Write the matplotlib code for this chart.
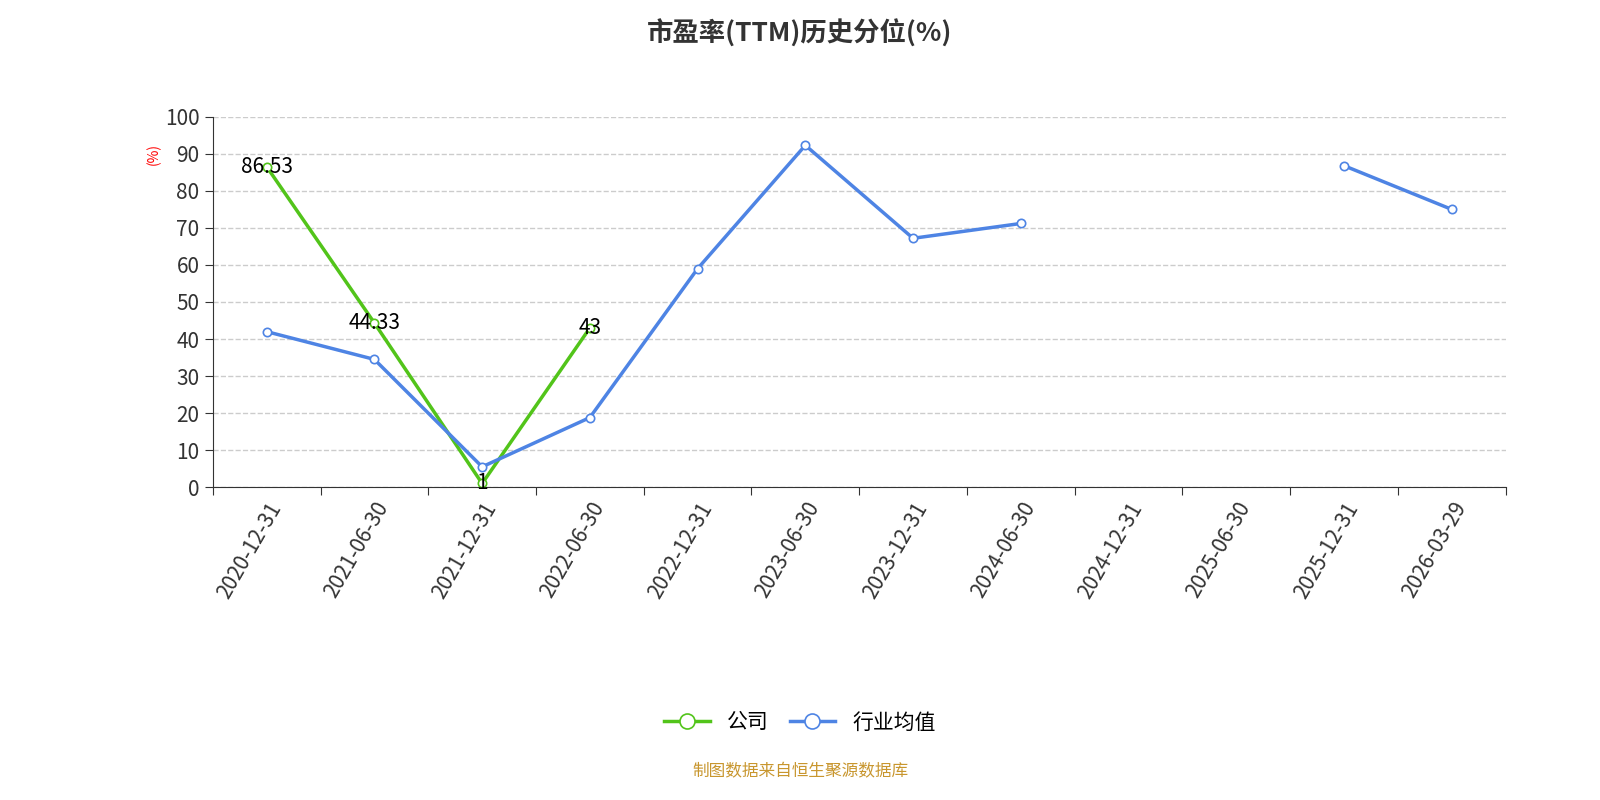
import matplotlib.pyplot as plt
import numpy as np

plt.rcParams['font.family'] = ['Noto Sans CJK SC', 'DejaVu Sans']

dates = ["2020-12-31", "2021-06-30", "2021-12-31", "2022-06-30", "2022-12-31",
         "2023-06-30", "2023-12-31", "2024-06-30", "2024-12-31", "2025-06-30",
         "2025-12-31", "2026-03-29"]
company = [86.53, 44.33, 1, 43] + [np.nan] * 8
company_labels = ["86.53", "44.33", "1", "43"]
industry = [42.0, 34.5, 5.5, 18.8, 59.0, 92.3, 67.2, 71.2, np.nan, np.nan, 86.8, 75.0]

green = "#52c41a"
blue = "#4e84e4"

fig = plt.figure(figsize=(16, 8), dpi=100)
ax = fig.add_axes([0.133, 0.391, 0.808, 0.463])
x = np.arange(len(dates))

ax.plot(x, company, color=green, lw=2.5, marker="o", ms=6,
        mfc="white", mec=green, mew=1.2, label="公司", zorder=3)
ax.plot(x, industry, color=blue, lw=2.5, marker="o", ms=6,
        mfc="white", mec=blue, mew=1.2, label="行业均值", zorder=4)
for xi, v, t in zip(x, company, company_labels):
    ax.text(xi, v, t, ha="center", va="center", fontsize=15, color="black", zorder=5)

ax.set_xlim(-0.5, len(dates) - 0.5)
ax.set_ylim(0, 100)
ax.set_yticks(range(0, 101, 10))
ax.yaxis.grid(True, ls="--", color="#cccccc", lw=1)
ax.set_axisbelow(True)
ax.set_xticks(np.arange(-0.5, len(dates), 1), minor=False)
ax.set_xticklabels([])
ax.set_xticks(x, minor=True)
ax.set_xticklabels(dates, minor=True, rotation=60, ha="right",
                   rotation_mode="anchor", fontsize=15, color="#333333")
ax.tick_params(axis="x", which="minor", length=0, pad=8)
ax.tick_params(axis="x", which="major", length=6, color="#333333")
ax.tick_params(axis="y", labelsize=15, colors="#333333", length=6)
for s in ["top", "right"]:
    ax.spines[s].set_visible(False)
ax.spines["left"].set_color("#333333")
ax.spines["bottom"].set_color("#333333")
ax.text(-0.046, 0.9, "(%)", transform=ax.transAxes, color="red",
        fontsize=10, rotation=90, ha="center", va="center")

fig.suptitle("市盈率(TTM)历史分位(%)", fontsize=19, fontweight="bold",
             color="#333333", y=0.975)
fig.legend(loc="center", bbox_to_anchor=(0.5, 0.097), ncol=2, frameon=False,
           fontsize=15, handlelength=2.2, markerscale=1.8, columnspacing=1.0)
fig.text(0.5, 0.03, "制图数据来自恒生聚源数据库", ha="center", fontsize=12,
         color="#c8962e")
fig.savefig("out.png", dpi=100)
